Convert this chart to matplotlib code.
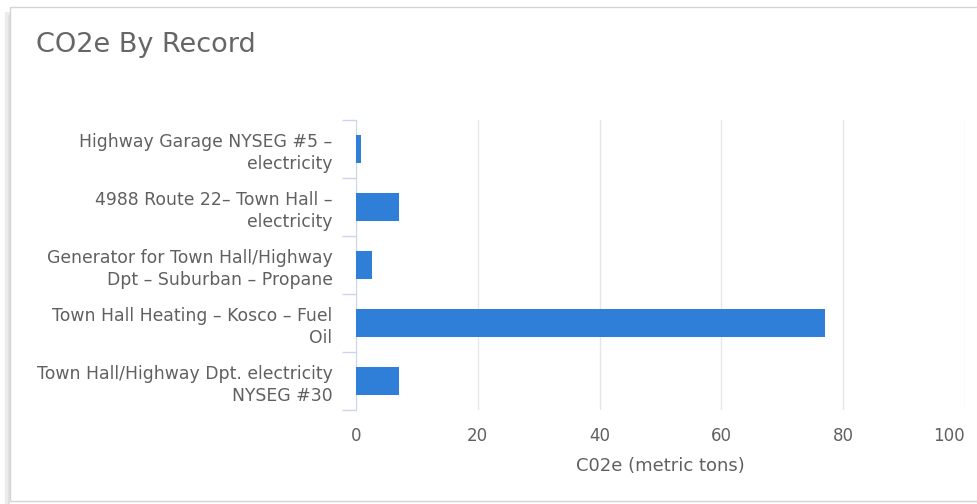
import matplotlib.pyplot as plt
from matplotlib.patches import FancyBboxPatch
import numpy as np

records = [
    "Highway Garage NYSEG #5 –\nelectricity",
    "4988 Route 22– Town Hall –\nelectricity",
    "Generator for Town Hall/Highway\nDpt – Suburban – Propane",
    "Town Hall Heating – Kosco – Fuel\nOil",
    "Town Hall/Highway Dpt. electricity\nNYSEG #30",
]
co2e = [0.9, 7.0, 2.7, 77.0, 7.0]
x_ticks = [0, 20, 40, 60, 80, 100]

text_color = '#606060'
bar_color = '#2f7ed8'

fig = plt.figure(figsize=(9.78, 5.04), dpi=100)
fig.patch.set_facecolor('white')

# card border with a light shadow
for off, col in [(3, '#ececec'), (1.5, '#e0e0e0')]:
    fig.add_artist(FancyBboxPatch((10 / 978 - off / 978, -0.02), 1.2, (497 + off) / 504,
                                  boxstyle='square,pad=0', transform=fig.transFigure,
                                  facecolor='none', edgecolor=col, linewidth=off, zorder=0))
fig.add_artist(FancyBboxPatch((10 / 978, 3 / 504), 1.2, 494 / 504,
                              boxstyle='square,pad=0', transform=fig.transFigure,
                              facecolor='white', edgecolor='#d4d4d4', linewidth=1, zorder=0))

ax = fig.add_axes([356 / 978, 94 / 504, 609 / 978, 290 / 504])
ax.set_facecolor('none')

y = np.arange(len(records))
ax.barh(y, co2e, height=0.47, color=bar_color, zorder=3)

ax.set_xlim(0, 100)
ax.set_ylim(len(records) - 0.5, -0.5)
ax.set_xticks(x_ticks)
ax.set_xticklabels([str(v) for v in x_ticks], fontsize=12, color=text_color)
ax.get_xticklabels()[-1].set_horizontalalignment('right')
ax.set_yticks(y)
ax.set_yticklabels(records, fontsize=12.4, color=text_color, linespacing=1.3)
ax.set_yticks(np.arange(len(records) + 1) - 0.5, minor=True)

ax.tick_params(axis='x', length=0, pad=12)
ax.tick_params(axis='y', which='major', length=0, pad=17)
ax.tick_params(axis='y', which='minor', length=10, color='#ccd6eb', width=1)

ax.grid(axis='x', color='#e6e6e6', linewidth=1, zorder=0)
for side in ['top', 'right', 'bottom']:
    ax.spines[side].set_visible(False)
ax.spines['left'].set_color('#ccd6eb')

ax.set_xlabel('C02e (metric tons)', fontsize=13, color=text_color, labelpad=9)

fig.text(36 / 978, 1 - 45 / 504, 'CO2e By Record', fontsize=19.5, color='#666666',
         va='center', ha='left')

plt.savefig('out.png', dpi=100)
